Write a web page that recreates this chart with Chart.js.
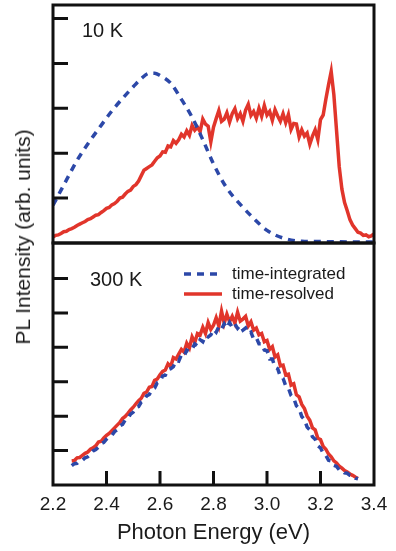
<!DOCTYPE html>
<html>
<head>
<meta charset="utf-8">
<script src="https://cdn.jsdelivr.net/npm/chart.js@4.4.0/dist/chart.umd.min.js"></script>
<style>
  html, body { margin: 0; padding: 0; background: #fff; }
  #wrap { position: relative; width: 396px; height: 551px; overflow: hidden; }
  #wrap canvas { position: absolute; left: 0; }
  #top-chart { top: 0; }
  #bottom-chart { top: 238px; }
  #y-title {
    position: absolute; left: 23px; top: 237px;
    transform: translate(-50%, -50%) rotate(-90deg);
    font: 21px "Liberation Sans", Arial, sans-serif;
    white-space: nowrap; color: #1a1a1a;
  }
</style>
</head>
<body>
<div id="wrap">
  <canvas id="top-chart" width="396" height="250"></canvas>
  <canvas id="bottom-chart" width="396" height="313"></canvas>
  <div id="y-title">PL Intensity (arb. units)</div>
</div>
<script>
// PL spectra, 10 K (top) and 300 K (bottom)
const FONT = '"Liberation Sans", Arial, sans-serif';
const RED = "#e1352b";
const BLUE = "#2c48a8";

// shared energy grid (eV) for the measured spectra
const energy = [
  2.20, 2.21, 2.22, 2.23, 2.24, 2.25, 2.26, 2.27, 2.28, 2.29,
  2.30, 2.31, 2.32, 2.33, 2.34, 2.35, 2.36, 2.37, 2.38, 2.39,
  2.40, 2.41, 2.42, 2.43, 2.44, 2.45, 2.46, 2.47, 2.48, 2.49,
  2.50, 2.51, 2.52, 2.53, 2.54, 2.55, 2.56, 2.57, 2.58, 2.59,
  2.60, 2.61, 2.62, 2.63, 2.64, 2.65, 2.66, 2.67, 2.68, 2.69,
  2.70, 2.71, 2.72, 2.73, 2.74, 2.75, 2.76, 2.77, 2.78, 2.79,
  2.80, 2.81, 2.82, 2.83, 2.84, 2.85, 2.86, 2.87, 2.88, 2.89,
  2.90, 2.91, 2.92, 2.93, 2.94, 2.95, 2.96, 2.97, 2.98, 2.99,
  3.00, 3.01, 3.02, 3.03, 3.04, 3.05, 3.06, 3.07, 3.08, 3.09,
  3.10, 3.11, 3.12, 3.13, 3.14, 3.15, 3.16, 3.17, 3.18, 3.19,
  3.20, 3.21, 3.22, 3.23, 3.24, 3.25, 3.26, 3.27, 3.28, 3.29,
  3.30, 3.31, 3.32, 3.33, 3.34, 3.35, 3.36, 3.37, 3.38, 3.39,
  3.40
];

// 10 K, time-resolved
const resolved10K = [
  0.13, 0.17, 0.18, 0.21, 0.25, 0.26, 0.30, 0.32, 0.35, 0.39,
  0.42, 0.45, 0.48, 0.52, 0.54, 0.58, 0.62, 0.63, 0.68, 0.72,
  0.77, 0.79, 0.85, 0.88, 0.93, 1.00, 1.02, 1.09, 1.15, 1.18,
  1.26, 1.30, 1.38, 1.50, 1.62, 1.66, 1.70, 1.74, 1.82, 1.90,
  1.94, 2.03, 2.02, 2.16, 2.14, 2.28, 2.22, 2.30, 2.42, 2.36,
  2.50, 2.40, 2.62, 2.51, 2.58, 2.48, 2.76, 2.65, 2.60, 2.25,
  2.58, 2.77, 2.95, 2.71, 2.76, 2.90, 2.69, 2.88, 2.99, 2.77,
  2.88, 2.71, 2.96, 3.09, 2.84, 2.93, 2.78, 3.00, 2.82, 3.06,
  2.85, 2.93, 2.73, 2.97, 2.83, 2.71, 2.88, 2.68, 2.86, 2.53,
  2.66, 2.65, 2.36, 2.52, 2.38, 2.45, 2.20, 2.38, 2.52, 2.30,
  2.75, 2.85, 3.20, 3.52, 3.82, 3.30, 2.50, 1.70, 1.20, 0.90,
  0.72, 0.52, 0.40, 0.32, 0.24, 0.22, 0.17, 0.18, 0.14, 0.16,
  0.20
];

// 10 K, time-integrated (smooth)
const integrated10KEnergy = [
  2.20, 2.25, 2.29, 2.34, 2.38, 2.42, 2.46, 2.50, 2.53, 2.56, 2.58, 2.60, 2.64,
  2.68, 2.72, 2.76, 2.80, 2.85, 2.90, 2.95, 3.00, 3.06, 3.13, 3.23, 3.33, 3.40
];
const integrated10K = [
  0.84, 1.40, 1.84, 2.29, 2.62, 2.94, 3.22, 3.48, 3.66, 3.78, 3.78, 3.73, 3.56,
  3.20, 2.80, 2.30, 1.76, 1.22, 0.86, 0.55, 0.28, 0.11, 0.04, 0.03, 0.02, 0.02
];

// 300 K, time-integrated
const integrated300K = [
  null, null, null, null, null, null, null, 0.56, 0.62, 0.63,
  0.70, 0.72, 0.79, 0.82, 0.89, 0.99, 1.03, 1.10, 1.20, 1.24,
  1.33, 1.40, 1.44, 1.55, 1.60, 1.72, 1.76, 1.89, 1.93, 2.06,
  2.12, 2.25, 2.28, 2.41, 2.46, 2.59, 2.63, 2.77, 2.82, 2.97,
  3.00, 3.17, 3.19, 3.35, 3.38, 3.44, 3.62, 3.60, 3.78, 3.74,
  3.92, 3.88, 3.95, 4.10, 4.04, 4.22, 4.16, 4.34, 4.30, 4.36,
  4.52, 4.44, 4.60, 4.52, 4.68, 4.56, 4.72, 4.58, 4.68, 4.55,
  4.64, 4.50, 4.56, 4.40, 4.44, 4.24, 4.28, 4.10, 4.10, 3.92,
  3.90, 3.66, 3.66, 3.42, 3.38, 3.15, 3.10, 2.88, 2.82, 2.60,
  2.52, 2.30, 2.22, 1.99, 1.90, 1.68, 1.60, 1.40, 1.33, 1.14,
  1.08, 0.92, 0.86, 0.72, 0.70, 0.57, 0.54, 0.44, 0.43, 0.35,
  0.34, 0.28, 0.27, 0.20, 0.18, null, null, null, null, null,
  null
];

// 300 K, time-resolved
const resolved300K = [
  null, null, null, null, null, null, null, 0.70, 0.71, 0.79,
  0.80, 0.86, 0.92, 0.96, 1.04, 1.08, 1.14, 1.25, 1.27, 1.37,
  1.44, 1.50, 1.58, 1.66, 1.74, 1.82, 1.93, 1.99, 2.08, 2.18,
  2.26, 2.36, 2.45, 2.52, 2.66, 2.70, 2.84, 2.86, 3.04, 3.08,
  3.20, 3.30, 3.34, 3.52, 3.44, 3.70, 3.66, 3.80, 3.94, 3.86,
  4.12, 3.98, 4.30, 4.14, 4.40, 4.36, 4.58, 4.40, 4.72, 4.52,
  4.64, 4.86, 4.62, 5.05, 4.70, 4.96, 4.74, 4.90, 4.70, 5.02,
  4.76, 4.82, 4.90, 4.62, 4.74, 4.50, 4.56, 4.36, 4.40, 4.16,
  4.20, 3.94, 4.02, 3.72, 3.78, 3.46, 3.48, 3.20, 3.22, 2.90,
  2.94, 2.62, 2.56, 2.34, 2.22, 2.00, 1.88, 1.66, 1.60, 1.36,
  1.32, 1.12, 1.04, 0.90, 0.82, 0.70, 0.64, 0.55, 0.49, 0.42,
  0.38, 0.32, 0.28, 0.23, 0.19, null, null, null, null, null,
  null
];

// ticks
const xTickLabels = [2.2, 2.4, 2.6, 2.8, 3.0, 3.2, 3.4];
const xInnerTicks = [2.4, 2.6, 2.8, 3.0, 3.2];
const topYTicks = [1, 2, 3, 4, 5];
const bottomYTicks = [1, 2, 3, 4, 5, 6];

function points(xs, ys) {
  return xs.map((x, i) => ({ x: x, y: ys[i] }));
}

// frame, inward ticks, axis text and in-panel labels
const panelPlugin = {
  id: "panel",
  afterDatasetsDraw(chart, args, opts) {
    const { ctx, chartArea: a, scales } = chart;
    ctx.save();
    ctx.strokeStyle = "#111";
    ctx.lineWidth = 3;
    ctx.setLineDash([]);
    ctx.beginPath();
    opts.yTicks.forEach((v) => {
      const y = scales.y.getPixelForValue(v);
      ctx.moveTo(a.left, y);
      ctx.lineTo(a.left + 15, y);
    });
    (opts.xTicks || []).forEach((v) => {
      const x = scales.x.getPixelForValue(v);
      ctx.moveTo(x, a.bottom);
      ctx.lineTo(x, a.bottom - 14);
    });
    ctx.stroke();
    ctx.strokeRect(a.left, a.top, a.right - a.left, a.bottom - a.top);

    ctx.fillStyle = "#1a1a1a";
    ctx.textBaseline = "middle";
    ctx.textAlign = "left";
    ctx.font = "20px " + FONT;
    ctx.fillText(opts.label, a.left + opts.labelDx, a.top + opts.labelDy);

    if (opts.legend) {
      const lx = a.left + 131;
      ctx.lineWidth = 3.5;
      ctx.strokeStyle = BLUE;
      ctx.setLineDash([7, 6]);
      ctx.beginPath();
      ctx.moveTo(lx, a.top + 31);
      ctx.lineTo(lx + 37, a.top + 31);
      ctx.stroke();
      ctx.strokeStyle = RED;
      ctx.setLineDash([]);
      ctx.beginPath();
      ctx.moveTo(lx, a.top + 51);
      ctx.lineTo(lx + 38, a.top + 51);
      ctx.stroke();
      ctx.font = "17px " + FONT;
      ctx.fillText("time-integrated", a.left + 179, a.top + 31);
      ctx.fillText("time-resolved", a.left + 179, a.top + 51);
    }

    if (opts.xLabels) {
      ctx.textAlign = "center";
      ctx.font = "19px " + FONT;
      opts.xLabels.forEach((v) => {
        ctx.fillText(v.toFixed(1), scales.x.getPixelForValue(v), a.bottom + 20);
      });
      ctx.font = "22px " + FONT;
      ctx.fillText(opts.xTitle, (a.left + a.right) / 2, a.bottom + 48);
    }
    ctx.restore();
  },
};

function lineSet(label, data, color, dashed, smooth) {
  return {
    label: label,
    data: data,
    borderColor: color,
    backgroundColor: color,
    borderWidth: 3.5,
    borderDash: dashed ? [7, 6] : [],
    pointRadius: 0,
    tension: smooth ? 0.4 : 0,
    cubicInterpolationMode: smooth ? "monotone" : "default",
    spanGaps: false,
  };
}

const baseOptions = {
  responsive: false,
  animation: false,
  devicePixelRatio: 1,
  plugins: { legend: { display: false }, tooltip: { enabled: false } },
};

new Chart(document.getElementById("top-chart"), {
  type: "line",
  data: {
    datasets: [
      lineSet("time-integrated", points(integrated10KEnergy, integrated10K), BLUE, true, true),
      lineSet("time-resolved", points(energy, resolved10K), RED, false, false),
    ],
  },
  options: {
    ...baseOptions,
    layout: { padding: { left: 53, right: 22, top: 5, bottom: 7 } },
    scales: {
      x: { type: "linear", min: 2.2, max: 3.4, display: false },
      y: { min: 0, max: 5.3, display: false },
    },
    plugins: {
      ...baseOptions.plugins,
      panel: { yTicks: topYTicks, label: "10 K", labelDx: 29, labelDy: 26 },
    },
  },
  plugins: [panelPlugin],
});

new Chart(document.getElementById("bottom-chart"), {
  type: "line",
  data: {
    datasets: [
      lineSet("time-integrated", points(energy, integrated300K), BLUE, true, false),
      lineSet("time-resolved", points(energy, resolved300K), RED, false, false),
    ],
  },
  options: {
    ...baseOptions,
    layout: { padding: { left: 53, right: 22, top: 5, bottom: 66 } },
    scales: {
      x: { type: "linear", min: 2.2, max: 3.4, display: false },
      y: { min: 0, max: 7.03, display: false },
    },
    plugins: {
      ...baseOptions.plugins,
      panel: {
        yTicks: bottomYTicks,
        xTicks: xInnerTicks,
        xLabels: xTickLabels,
        xTitle: "Photon Energy (eV)",
        label: "300 K",
        labelDx: 37,
        labelDy: 37,
        legend: true,
      },
    },
  },
  plugins: [panelPlugin],
});
</script>
</body>
</html>
